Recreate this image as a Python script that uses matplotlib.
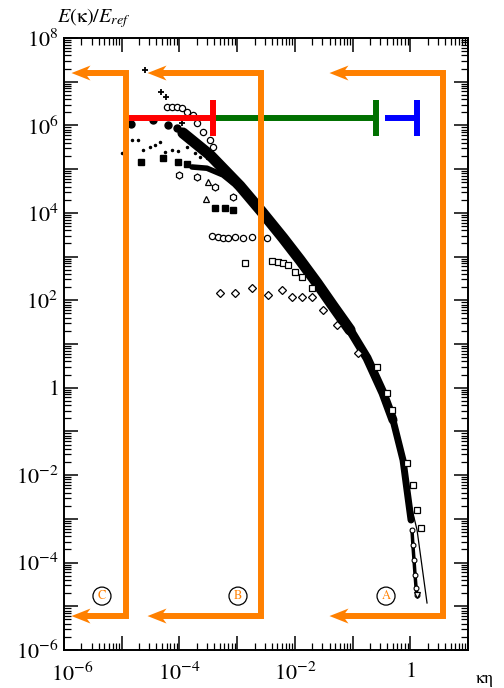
import numpy as np
import matplotlib
matplotlib.use("Agg")
import matplotlib.pyplot as plt
import matplotlib.transforms as mtransforms
from matplotlib.patches import Polygon
from matplotlib.ticker import FixedLocator, LogLocator, FuncFormatter

plt.rcParams['mathtext.fontset'] = 'stix'
plt.rcParams['font.family'] = ['STIXGeneral', 'DejaVu Serif']

# ---------------- data (kappa*eta, E/E_ref) ----------------
band_k = [1.15e-4, 3.39e-4, 1.12e-3, 2.70e-3, 6.24e-3, 1.23e-2,
          2.42e-2, 4.58e-2, 9.04e-2, 0.178, 0.337, 0.502, 0.748, 0.877, 1.03]
band_E = [6.71e5, 2.10e5, 4.11e4, 1.04e4, 2.66e3, 834,
          248, 74.0, 20.9, 4.78, 0.755, 0.182, 2.21e-2, 4.56e-3, 9.4e-4]

branch_k = [1.65e-4, 3.0e-4, 5.69e-4, 8.47e-4]
branch_E = [1.12e5, 1.05e5, 7.35e4, 4.82e4]

tail_k = [1.07, 1.11, 1.16, 1.21, 1.26, 1.31]
tail_E = [5.55e-4, 2.52e-4, 1.14e-4, 5.18e-5, 2.61e-5, 1.81e-5]

model_k = [0.81, 1.31, 1.95]
model_E = [7.7e-3, 5.55e-4, 1.19e-5]

plus_k = [2.54e-5, 4.80e-5, 5.85e-5, 1.11e-4]
plus_E = [1.85e7, 5.82e6, 4.47e6, 1.14e6]

ocirc_k = [6.10e-5, 7.43e-5, 9.08e-5, 1.11e-4, 1.35e-4, 1.72e-4, 2.02e-4, 2.56e-4, 3.39e-4, 3.82e-4]
ocirc_E = [2.64e6, 2.64e6, 2.64e6, 2.51e6, 2.03e6, 1.73e6, 1.14e6, 7.08e5, 4.64e5, 3.21e5]

fcirc_k = [1.45e-5, 3.48e-5, 6.34e-5, 9.08e-5]
fcirc_E = [1.08e6, 1.33e6, 1.02e6, 8.7e5]

dots_k = [1.01e-5, 1.51e-5, 1.91e-5, 2.34e-5, 3.09e-5, 3.78e-5, 4.60e-5, 5.62e-5,
          7.43e-5, 9.44e-5, 1.35e-4, 1.86e-4, 2.28e-4, 3.01e-4, 3.82e-4]
dots_E = [2.34e5, 4.64e5, 4.64e5, 2.74e5, 3.21e5, 3.56e5, 4.18e5, 2.47e5,
          2.74e5, 2.60e5, 3.21e5, 2.34e5, 1.90e5, 1.80e5, 1.46e5]

fsq_k = [2.16e-5, 5.19e-5, 9.44e-5, 1.35e-4, 4.14e-4, 6.17e-4, 8.47e-4]
fsq_E = [1.46e5, 1.80e5, 1.46e5, 1.31e5, 1.29e4, 1.29e4, 1.16e4]

hex_k = [9.84e-5, 2.02e-4, 4.14e-4, 8.47e-4]
hex_E = [7.35e4, 6.61e4, 3.90e4, 2.30e4]

tri_k = [2.89e-4, 3.13e-4]
tri_E = [2.07e4, 5.08e4]

ocirc2_k = [3.67e-4, 4.66e-4, 5.69e-4, 6.95e-4, 9.18e-4, 1.26e-3, 1.81e-3, 3.30e-3]
ocirc2_E = [2.95e3, 2.80e3, 2.66e3, 2.66e3, 2.80e3, 2.66e3, 2.80e3, 2.66e3]

osq_k = [1.37e-3, 4.02e-3, 5.10e-3, 6.24e-3, 7.60e-3, 1.01e-2, 1.33e-2, 1.98e-2]
osq_E = [712, 791, 750, 712, 641, 444, 340, 191]

odia_k = [5.05e-4, 9.18e-4, 1.81e-3, 3.43e-3, 6.00e-3, 8.93e-3, 1.33e-2, 1.98e-2, 3.08e-2, 5.38e-2, 0.124]
odia_E = [147, 147, 191, 132, 172, 119, 119, 119, 59.8, 27.2, 6.21]

edge_k = [0.265, 0.395, 0.483, 0.877, 1.11, 1.31, 1.53]
edge_E = [2.97, 0.755, 0.308, 1.89e-2, 5.93e-3, 1.59e-3, 6.17e-4]

# annotation geometry (data coords)
bracket_corner = [3.69, 2.64e-3, 1.19e-5]          # x of vertical orange lines A, B, C
bracket_end = [6.82e-2, 4.80e-5, 2.31e-6]          # x where arrow shafts end
bracket_top, bracket_bot = 1.58e7, 5.98e-6
bracket_labels = ['A', 'B', 'C']
label_k = [0.380, 1.035e-3, 4.55e-6]
label_E = 1.71e-5

bar_E = 1.48e6
bar_tick_E = [5.73e5, 3.8e6]
red_x = [1.29e-5, 3.82e-4]
green_x = [4.14e-4, 0.255]
blue_x = [0.365, 1.31]

xticks = 10.0 ** np.arange(-6, 2)
yticks = 10.0 ** np.arange(-6, 9)

ORANGE = '#ff8000'

# ---------------- figure ----------------
fig = plt.figure(figsize=(5.04, 6.88), dpi=100)
ax = fig.add_axes([64 / 504, 38 / 688, 404 / 504, 612 / 688])
ax.set_xscale('log')
ax.set_yscale('log')
ax.set_xlim(1e-6, 1e1)
ax.set_ylim(1e-6, 1e8)

# data: dense collapsed band drawn as thick strokes (thicker at low wavenumber)
band_style = dict(color='black', solid_capstyle='round', solid_joinstyle='round', zorder=2)
ax.plot(band_k[:9], band_E[:9], lw=8, **band_style)
ax.plot(band_k[7:12], band_E[7:12], lw=6.5, **band_style)
ax.plot(band_k[10:], band_E[10:], lw=5, **band_style)
ax.plot(branch_k, branch_E, color='black', lw=4, solid_capstyle='round', zorder=2)
ax.plot(tail_k, tail_E, color='black', lw=2.5, zorder=2)
ax.plot(model_k, model_E, color='black', lw=0.9, zorder=2)

mk = dict(linestyle='none', zorder=3)
ax.plot(plus_k, plus_E, marker='+', ms=5, mew=1.3, color='black', **mk)
ax.plot(ocirc_k, ocirc_E, marker='o', ms=4.5, mfc='white', mec='black', mew=0.9, **mk)
ax.plot(fcirc_k, fcirc_E, marker='o', ms=5, color='black', **mk)
ax.plot(dots_k, dots_E, marker='.', ms=3, color='black', **mk)
ax.plot(fsq_k, fsq_E, marker='s', ms=4.5, color='black', **mk)
ax.plot(hex_k, hex_E, marker='h', ms=5, mfc='white', mec='black', mew=0.9, **mk)
ax.plot(tri_k, tri_E, marker='^', ms=5, mfc='white', mec='black', mew=0.9, **mk)
ax.plot(ocirc2_k, ocirc2_E, marker='o', ms=4.5, mfc='white', mec='black', mew=0.9, **mk)
ax.plot(osq_k, osq_E, marker='s', ms=4, mfc='white', mec='black', mew=0.9, **mk)
ax.plot(odia_k, odia_E, marker='D', ms=4, mfc='white', mec='black', mew=0.9, **mk)
ax.plot(edge_k, edge_E, marker='s', ms=4, mfc='white', mec='black', mew=0.9, **mk)
ax.plot(tail_k, tail_E, marker='o', ms=3.5, mfc='white', mec='black', mew=0.8, **mk)
ax.plot(tail_k[-1:], tail_E[-1:], marker='v', ms=4.5, mfc='white', mec='black', mew=0.9, **mk)

# coloured range bars
LW = 4.3
ax.plot(red_x, [bar_E, bar_E], color='#ff0000', lw=LW, solid_capstyle='butt', zorder=4)
ax.plot(green_x, [bar_E, bar_E], color='#007000', lw=LW, solid_capstyle='butt', zorder=4)
ax.plot(blue_x, [bar_E, bar_E], color='#0000ff', lw=LW, solid_capstyle='butt', zorder=4)
ax.vlines(red_x[1], *bar_tick_E, color='#ff0000', lw=LW, zorder=4)
ax.vlines(green_x[1], *bar_tick_E, color='#007000', lw=LW, zorder=4)
ax.vlines(blue_x[1], *bar_tick_E, color='#0000ff', lw=LW, zorder=4)

# orange brackets with arrow heads
head = [(-0.135, 0.0), (0.055, 0.075), (0.0, 0.0), (0.055, -0.075)]
for xc, xe, lab, xl in zip(bracket_corner, bracket_end, bracket_labels, label_k):
    ax.plot([xe, xc, xc, xe], [bracket_top, bracket_top, bracket_bot, bracket_bot],
            color=ORANGE, lw=LW, solid_capstyle='butt', solid_joinstyle='miter', zorder=5)
    for yy in (bracket_top, bracket_bot):
        tr = fig.dpi_scale_trans + mtransforms.ScaledTranslation(xe, yy, ax.transData)
        ax.add_patch(Polygon(head, closed=True, transform=tr, fc=ORANGE, ec='none', zorder=5))
    ax.text(xl, label_E, lab, color=ORANGE, fontsize=9, ha='center', va='center', zorder=6,
            bbox=dict(boxstyle='circle,pad=0.25', fc='none', ec='black', lw=0.9))

# ticks
def fmt(v, pos):
    e = int(round(np.log10(v)))
    if e % 2:
        return ''
    return r'$1$' if e == 0 else r'$10^{%d}$' % e

ax.xaxis.set_major_locator(FixedLocator(xticks))
ax.yaxis.set_major_locator(FixedLocator(yticks))
ax.xaxis.set_minor_locator(LogLocator(base=10, subs=np.arange(2, 10), numticks=100))
ax.yaxis.set_minor_locator(LogLocator(base=10, subs=np.arange(2, 10), numticks=100))
ax.xaxis.set_major_formatter(FuncFormatter(fmt))
ax.yaxis.set_major_formatter(FuncFormatter(fmt))
ax.tick_params(which='both', direction='in', top=True, right=True, color='black')
ax.tick_params(which='major', length=10, width=1.1, labelsize=16)
ax.tick_params(which='minor', length=5, width=0.9)
ax.tick_params(axis='x', which='major', pad=9)
ax.tick_params(axis='y', which='major', pad=4)
for s in ax.spines.values():
    s.set_linewidth(1.4)

fig.text(57 / 504, 1 - 18 / 688, r'$E$(κ)/$E_{ref}$', fontsize=14.5, ha='left', va='center')
fig.text(476 / 504, 1 / 688, 'κη', fontsize=13, ha='left', va='bottom')

# first x label sits a little to the right of its tick, as in the original
fig.canvas.draw()
first = ax.xaxis.get_major_ticks()[0].label1
first.set_transform(first.get_transform() +
                    mtransforms.ScaledTranslation(8 / 100, 0, fig.dpi_scale_trans))

fig.savefig('out.png', dpi=100)
